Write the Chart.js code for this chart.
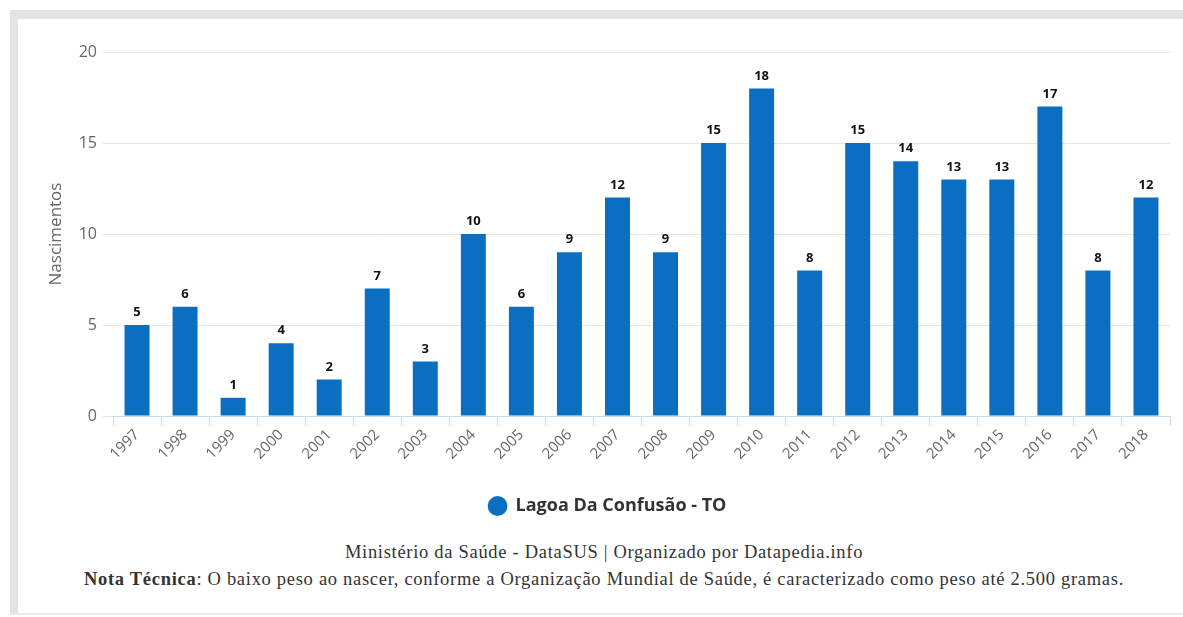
<!DOCTYPE html>
<html>
<head>
<meta charset="utf-8">
<script src="https://cdn.jsdelivr.net/npm/chart.js@4"></script>
<style>
  html, body { margin: 0; padding: 0; background: #fff; }
  body { width: 1183px; height: 617px; position: relative; overflow: hidden; }
  .frame-top { position: absolute; left: 10px; top: 10px; width: 1173px; height: 9px; background: #e3e3e3; }
  .frame-left { position: absolute; left: 10px; top: 10px; width: 8px; height: 604px; background: #e3e3e3; }
  .frame-bottom { position: absolute; left: 10px; top: 613px; width: 1173px; height: 2px; background: #ececec; }
  .chart-box { position: absolute; left: 0; top: 0; width: 1183px; height: 525px; }
  .footer { position: absolute; left: 18px; width: 1172px; text-align: center; font-family: "Liberation Serif", serif; font-size: 18.5px; letter-spacing: 0.7px; color: #333; white-space: nowrap; }
  .f1 { top: 542px; }
  .f2 { top: 569px; }
</style>
</head>
<body>
<div class="frame-top"></div>
<div class="frame-left"></div>
<div class="frame-bottom"></div>
<div class="chart-box"><canvas id="birthChart"></canvas></div>
<div class="footer f1">Ministério da Saúde - DataSUS | Organizado por Datapedia.info</div>
<div class="footer f2"><b>Nota Técnica</b>: O baixo peso ao nascer, conforme a Organização Mundial de Saúde, é caracterizado como peso até 2.500 gramas.</div>
<script>
const years = ['1997','1998','1999','2000','2001','2002','2003','2004','2005','2006','2007',
               '2008','2009','2010','2011','2012','2013','2014','2015','2016','2017','2018'];
const births = [5, 6, 1, 4, 2, 7, 3, 10, 6, 9, 12, 9, 15, 18, 8, 15, 14, 13, 13, 17, 8, 12];
const yTicks = [0, 5, 10, 15, 20];
const seriesName = 'Lagoa Da Confusão - TO';

const fontFamily = '"Open Sans", Lato, sans-serif';

// valores em cima das barras
const barValues = {
    id: 'barValues',
    afterDatasetsDraw(chart) {
        const ctx = chart.ctx;
        const meta = chart.getDatasetMeta(0);
        ctx.save();
        ctx.font = 'bold 13px ' + fontFamily;
        ctx.fillStyle = '#111';
        ctx.textAlign = 'center';
        ctx.textBaseline = 'bottom';
        meta.data.forEach((bar, i) => {
            ctx.fillText(chart.data.datasets[0].data[i], bar.x, bar.y - 6);
        });
        ctx.restore();
    }
};

const ctx = document.getElementById('birthChart').getContext('2d');
const birthChart = new Chart(ctx, {
    type: 'bar',
    data: {
        labels: years,
        datasets: [{
            label: seriesName,
            data: births,
            backgroundColor: '#0a6fc2',
            borderWidth: 0,
            barPercentage: 0.52,
            categoryPercentage: 1
        }]
    },
    options: {
        responsive: true,
        maintainAspectRatio: false,
        animation: false,
        layout: { padding: { left: 45, right: 13, top: 52, bottom: 0 } },
        plugins: {
            legend: {
                position: 'bottom',
                labels: {
                    usePointStyle: true,
                    pointStyle: 'circle',
                    color: '#333',
                    padding: 10,
                    boxHeight: 14,
                    font: { family: fontFamily, size: 18, weight: 'bold' }
                }
            },
            tooltip: { enabled: false }
        },
        scales: {
            x: {
                grid: { drawOnChartArea: false, drawTicks: true, tickLength: 10, color: '#ccd6eb' },
                border: { color: '#ccd6eb' },
                ticks: {
                    color: '#666',
                    font: { family: fontFamily, size: 15 },
                    minRotation: 45,
                    maxRotation: 45,
                    padding: 0
                },
                afterFit(axis) { axis.height = 71; }
            },
            y: {
                min: 0,
                max: 20,
                afterBuildTicks(axis) { axis.ticks = yTicks.map(v => ({ value: v })); },
                grid: { color: '#e6e6e6', tickLength: 10 },
                border: { display: false },
                ticks: {
                    color: '#666',
                    padding: 6,
                    font: { family: fontFamily, size: 16 }
                },
                title: {
                    display: true,
                    text: 'Nascimentos',
                    color: '#666',
                    padding: { top: 1, bottom: 2 },
                    font: { family: fontFamily, size: 17 }
                },
                afterFit(axis) { axis.width = 68; }
            }
        }
    },
    plugins: [barValues]
});
</script>
</body>
</html>
